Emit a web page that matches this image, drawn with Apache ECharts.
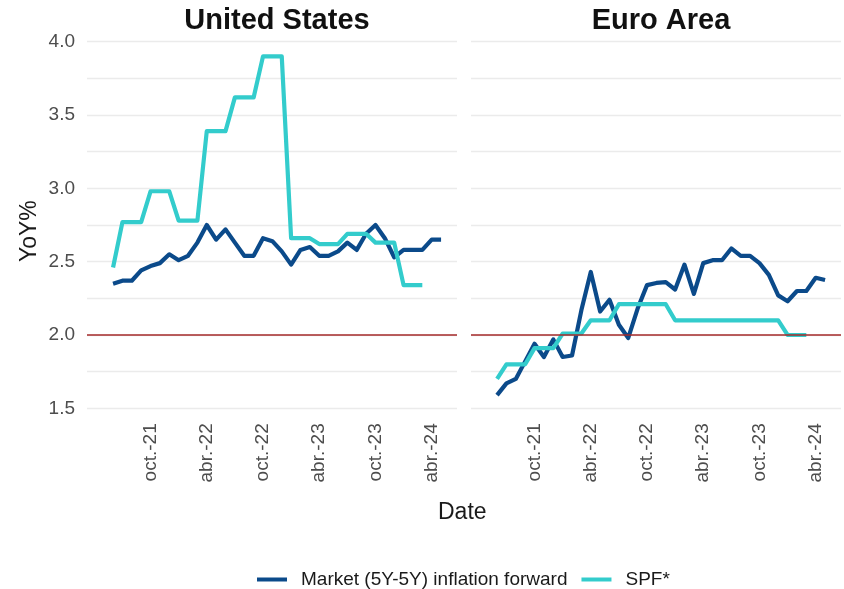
<!DOCTYPE html>
<html>
<head>
<meta charset="utf-8">
<script src="https://cdn.jsdelivr.net/npm/echarts@6/dist/echarts.min.js"></script>
<style>
  html, body { margin: 0; padding: 0; background: #fff; }
  #main { width: 844px; height: 589px; }
</style>
</head>
<body>
<div id="main"></div>
<script>
// month index: 0 = abr.-21, first observation = jun.-21
var firstMonth = 2;
var tickMonths = [6, 12, 18, 24, 30, 36];
var tickLabels = ['oct.-21', 'abr.-22', 'oct.-22', 'abr.-23', 'oct.-23', 'abr.-24'];
var yTicks = [1.5, 2.0, 2.5, 3.0, 3.5, 4.0];
var target = 2.0;

// United States
var usMarket = [2.35, 2.37, 2.37, 2.44, 2.47, 2.49, 2.55, 2.51, 2.54, 2.63, 2.75, 2.65,
  2.72, 2.63, 2.54, 2.54, 2.66, 2.64, 2.57, 2.48, 2.58, 2.60, 2.54, 2.54,
  2.57, 2.63, 2.58, 2.69, 2.75, 2.66, 2.53, 2.58, 2.58, 2.58, 2.65, 2.65];
var usSpf = [2.46, 2.77, 2.77, 2.77, 2.98, 2.98, 2.98, 2.78, 2.78, 2.78, 3.39, 3.39,
  3.39, 3.62, 3.62, 3.62, 3.90, 3.90, 3.90, 2.66, 2.66, 2.66, 2.62, 2.62,
  2.62, 2.69, 2.69, 2.69, 2.63, 2.63, 2.63, 2.34, 2.34, 2.34];

// Euro Area
var euMarket = [1.59, 1.67, 1.70, 1.82, 1.94, 1.85, 1.97, 1.85, 1.86, 2.17, 2.43, 2.16,
  2.24, 2.07, 1.98, 2.18, 2.34, 2.355, 2.36, 2.31, 2.48, 2.28, 2.49, 2.51,
  2.51, 2.59, 2.54, 2.54, 2.49, 2.41, 2.27, 2.23, 2.30, 2.30, 2.39, 2.375];
var euSpf = [1.70, 1.80, 1.80, 1.80, 1.91, 1.91, 1.91, 2.01, 2.01, 2.01, 2.10, 2.10,
  2.10, 2.21, 2.21, 2.21, 2.21, 2.21, 2.21, 2.10, 2.10, 2.10, 2.10, 2.10,
  2.10, 2.10, 2.10, 2.10, 2.10, 2.10, 2.10, 2.00, 2.00, 2.00];

var marketName = 'Market (5Y-5Y) inflation forward';
var spfName = 'SPF*';
var marketColor = '#0B4A8A';
var spfColor = '#33CCCC';
var gridColor = '#EBEBEB';
var labelColor = '#4D4D4D';
var font = '"Liberation Sans", Arial, sans-serif';

// pair month index with value
function toPoints(values) {
  var out = [];
  for (var i = 0; i < values.length; i++) {
    out.push([firstMonth + i, values[i]]);
  }
  return out;
}

function makeX(idx) {
  return {
    type: 'value', gridIndex: idx, min: -0.78, max: 38.7,
    axisLine: { show: false }, axisTick: { show: false },
    splitLine: { show: false },
    axisLabel: {
      customValues: tickMonths,
      rotate: 90, margin: 15, color: labelColor, fontSize: 19, fontFamily: font,
      formatter: function (v) {
        var k = tickMonths.indexOf(v);
        return k >= 0 ? tickLabels[k] : '';
      }
    }
  };
}

function makeY(idx, showLabels) {
  return {
    type: 'value', gridIndex: idx, min: 1.5, max: 4.0, interval: 0.25,
    axisLine: { show: false }, axisTick: { show: false },
    splitLine: { show: true, lineStyle: { color: gridColor, width: 1.3 } },
    axisLabel: {
      show: showLabels, margin: 12, color: labelColor, fontSize: 19, fontFamily: font,
      formatter: function (v) {
        return yTicks.some(function (t) { return Math.abs(t - v) < 1e-6; }) ? v.toFixed(1) : '';
      }
    }
  };
}

function lineSeries(name, color, values, idx) {
  return {
    name: name, type: 'line', xAxisIndex: idx, yAxisIndex: idx,
    data: toPoints(values), showSymbol: false, symbol: 'none',
    lineStyle: { color: color, width: 4.2, cap: 'butt', join: 'round' },
    itemStyle: { color: color },
    z: 3, animation: false
  };
}

function targetLine(idx) {
  return {
    type: 'line', xAxisIndex: idx, yAxisIndex: idx, data: [], z: 4, animation: false,
    markLine: {
      silent: true, symbol: 'none', label: { show: false },
      lineStyle: { color: '#A52A2A', width: 1.6, type: 'solid' },
      data: [{ yAxis: target }], animation: false
    }
  };
}

var chart = echarts.init(document.getElementById('main'));
var option = {
  backgroundColor: '#fff',
  animation: false,
  title: [
    { text: 'United States', left: 272, top: 1, textAlign: 'center',
      textStyle: { fontSize: 29, fontWeight: 'bold', color: '#111', fontFamily: font } },
    { text: 'Euro Area', left: 656, top: 1, textAlign: 'center',
      textStyle: { fontSize: 29, fontWeight: 'bold', color: '#111', fontFamily: font } }
  ],
  grid: [
    { left: 87, top: 41.7, width: 370, height: 366.6 },
    { left: 471, top: 41.7, width: 370, height: 366.6 }
  ],
  xAxis: [makeX(0), makeX(1)],
  yAxis: [makeY(0, true), makeY(1, false)],
  legend: {
    left: 252, top: 565, itemWidth: 30, itemHeight: 4, itemGap: 14, icon: 'rect',
    data: [marketName, spfName],
    textStyle: { fontSize: 19, color: '#1A1A1A', fontFamily: font, padding: [0, 0, 0, 9] }
  },
  graphic: [
    { type: 'text', left: 438, top: 501,
      style: { text: 'Date', fontSize: 23, fill: '#1A1A1A', fontFamily: font } },
    { type: 'text', x: 18, y: 262, rotation: Math.PI / 2,
      style: { text: 'YoY%', fontSize: 23, fill: '#1A1A1A', fontFamily: font } }
  ],
  series: [
    lineSeries(marketName, marketColor, usMarket, 0),
    lineSeries(spfName, spfColor, usSpf, 0),
    lineSeries(marketName, marketColor, euMarket, 1),
    lineSeries(spfName, spfColor, euSpf, 1),
    targetLine(0),
    targetLine(1)
  ]
};
chart.setOption(option);
</script>
</body>
</html>
